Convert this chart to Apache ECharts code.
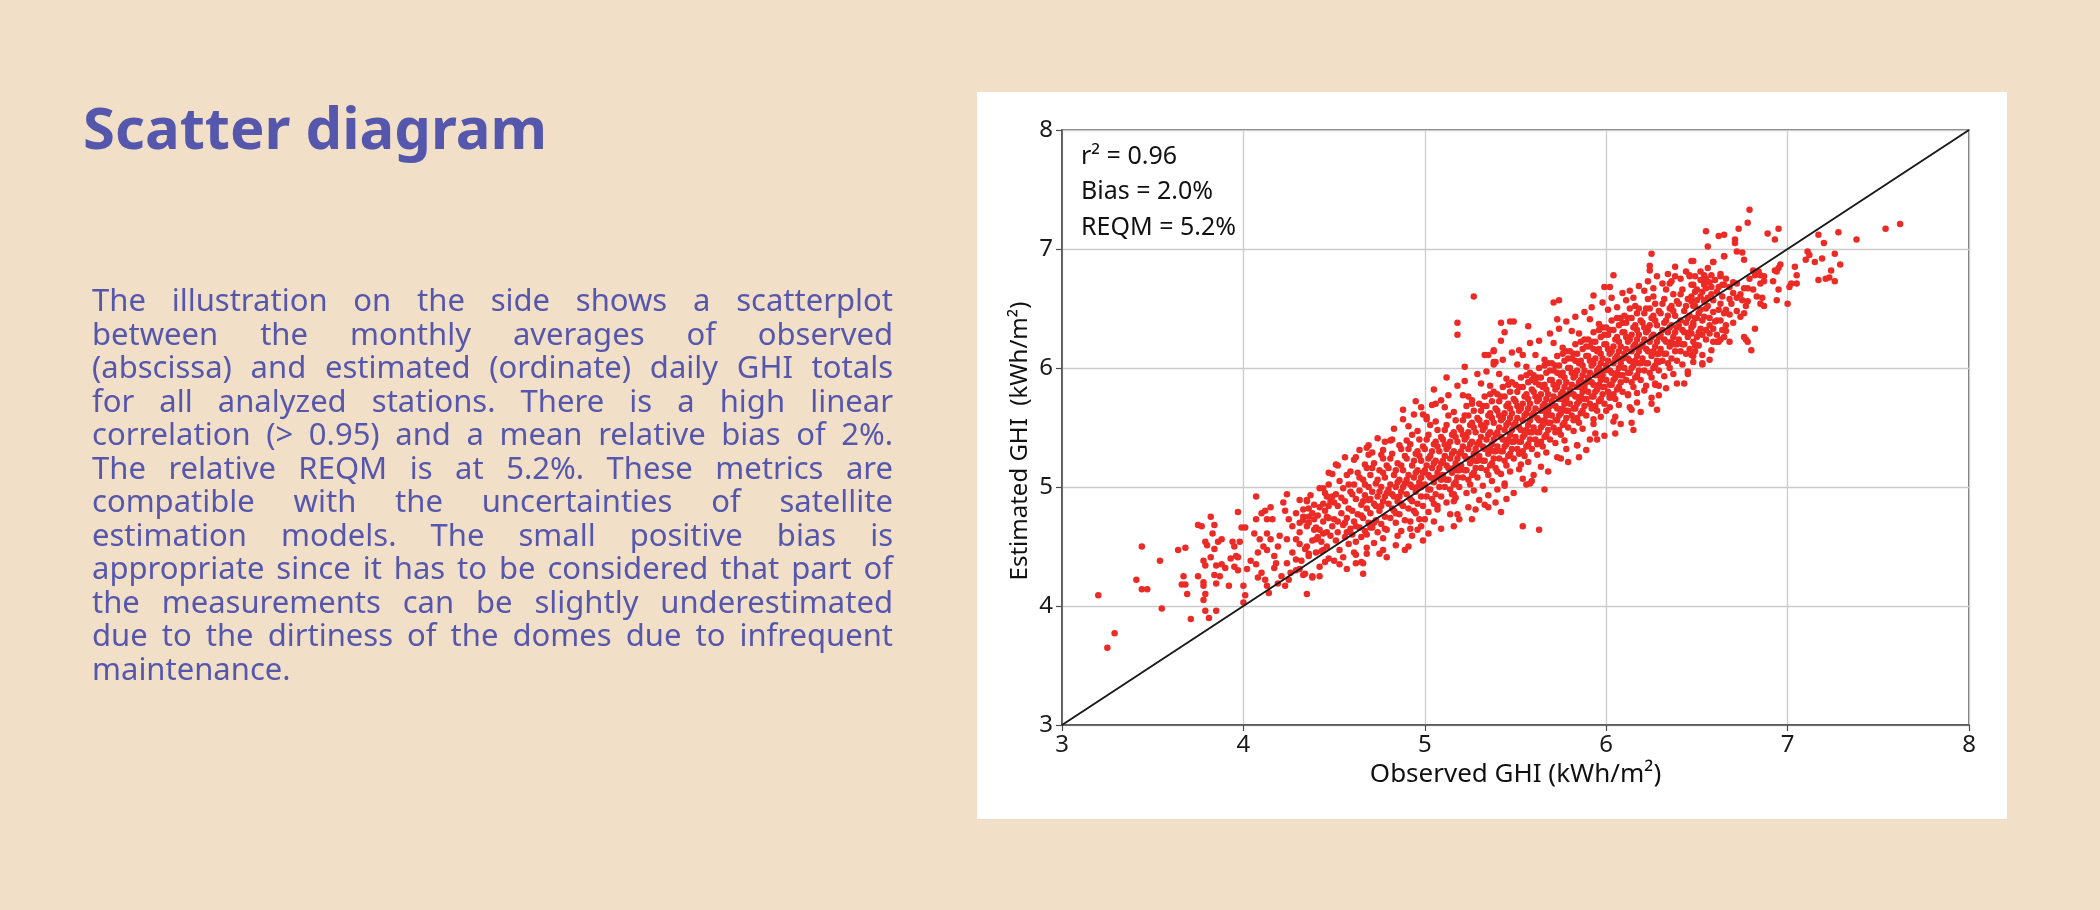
<!DOCTYPE html>
<html>
<head>
<meta charset="utf-8">
<script src="https://cdn.jsdelivr.net/npm/echarts@6/dist/echarts.min.js"></script>
<style>
html,body{margin:0;padding:0;width:2100px;height:910px;background:#f2dfc7;overflow:hidden;}
#chart{position:absolute;left:0;top:0;width:2100px;height:910px;}
#para{position:absolute;left:92px;top:283px;width:801px;font-family:'Noto Sans','Open Sans',sans-serif;font-size:31px;line-height:33.5px;color:#5557ad;z-index:5;}
#para div{text-align:justify;text-align-last:justify;white-space:nowrap;}
#para div.last{text-align:left;text-align-last:left;}
</style>
</head>
<body>
<div id="chart"></div>
<div id="para"></div>
<script>
// ---------- text ----------
const titleText = 'Scatter diagram';
const paragraphLines = [
  'The illustration on the side shows a scatterplot',
  'between the monthly averages of observed',
  '(abscissa) and estimated (ordinate) daily GHI totals',
  'for all analyzed stations. There is a high linear',
  'correlation (> 0.95) and a mean relative bias of 2%.',
  'The relative REQM is at 5.2%. These metrics are',
  'compatible with the uncertainties of satellite',
  'estimation models. The small positive bias is',
  'appropriate since it has to be considered that part of',
  'the measurements can be slightly underestimated',
  'due to the dirtiness of the domes due to infrequent',
  'maintenance.'
];
const statsLines = ['r\u00b2 = 0.96', 'Bias = 2.0%', 'REQM = 5.2%'];
const xAxisName = 'Observed GHI (kWh/m\u00b2)';
const yAxisName = 'Estimated GHI  (kWh/m\u00b2)';
const axisMin = 3, axisMax = 8, axisStep = 1;

// ---------- data: [observed, estimated] ----------
const lowerLeftPoints = [
[3.20,4.09],[3.25,3.65],[3.29,3.77],[3.44,4.50],[3.54,4.38],[3.41,4.22],[3.44,4.14],[3.47,4.14],[3.55,3.98],[3.64,4.47],
[3.68,4.49],[3.67,4.25],[3.66,4.18],[3.68,4.18],[3.69,4.10],[3.71,3.89],[3.75,4.25],[3.75,4.68],[3.77,4.67],[3.82,4.75],
[3.84,4.68],[3.83,4.61],[3.79,4.54],[3.80,4.51],[3.78,4.38],[3.79,4.34],[3.82,4.41],[3.78,4.20],[3.78,4.17],[3.79,4.10],
[3.78,4.05],[3.79,3.96],[3.81,3.90],[3.85,3.96],[3.84,4.48],[3.86,4.54],[3.88,4.56],[3.85,4.34],[3.88,4.35],[3.90,4.32],
[3.84,4.26],[3.87,4.25],[3.85,4.19],[3.92,4.17],[3.94,4.54],[3.95,4.50],[3.97,4.79],[3.93,4.40],[3.96,4.42],[3.99,4.66],
[4.01,4.66],[3.98,4.54],[3.97,4.41],[3.97,4.30],[3.95,4.33],[4.00,4.17],[4.01,4.09],[4.00,4.03],[4.02,4.31],[4.04,4.38],
[4.07,4.92],[4.07,4.73],[4.10,4.78],[4.12,4.80],[4.15,4.83],[4.13,4.73],[4.16,4.73],[4.22,4.87],[4.24,4.94],[4.23,4.80],
[4.31,4.89],[4.35,4.89],[4.36,4.82],[4.44,4.99],[4.46,4.92],[4.06,4.61],[4.09,4.56],[4.11,4.50],[4.08,4.45],[4.13,4.61],
[4.15,4.56],[4.13,4.47],[4.17,4.42],[4.07,4.35],[4.10,4.28],[4.12,4.22],[4.13,4.17],[4.14,4.11],[4.08,4.24],[4.17,4.32],
[4.19,4.19],[4.23,4.17],[4.25,4.22],[4.24,4.36],[4.27,4.45],[4.29,4.56],[4.27,4.67],[4.31,4.70],[4.35,4.67],[4.36,4.75],
[4.33,4.75],[4.39,4.73],[4.42,4.64],[4.44,4.61],[4.40,4.56],[4.35,4.50],[4.36,4.42],[4.40,4.45],[4.44,4.47],[4.42,4.33],
[4.38,4.25],[4.42,4.25],[4.35,4.10],[4.34,4.27],[4.31,4.31],[4.29,4.39],[4.26,4.28],[4.21,4.25],[4.18,4.36],[4.19,4.50],
[4.20,4.59],[4.24,4.56],[4.25,4.73],[4.29,4.78],[4.46,4.75],[4.47,4.84],[4.47,5.12]
];
const midOutliers = [
[5.33,6.11],[5.38,6.14],[5.39,6.05],[5.22,6.01],[5.06,5.70],[4.99,5.61],[5.01,5.57],[4.51,5.19],[4.62,5.25],[4.68,5.33],
[4.49,5.11],[4.78,5.38],[4.82,5.40],[4.90,5.39],[4.77,5.31],[4.69,5.27],[5.00,4.73],[5.02,4.61],[5.16,4.67],[5.26,4.73],
[5.35,4.83],[5.42,4.79],[5.40,4.98],[5.44,5.03],[5.54,4.67],[5.56,5.02],[5.52,5.15],[4.91,4.50],[4.92,4.65],[4.96,4.64],
[4.77,4.47],[4.68,4.44],[4.66,4.36],[4.62,4.36],[4.61,4.45],[4.50,4.38],[4.45,4.37],[4.38,4.24],[4.33,4.26],[4.29,4.30],
[4.78,4.65],[4.70,4.66],[5.30,4.89],[5.16,4.94],[5.07,4.84],[5.18,4.77],[5.27,6.60],[5.18,6.38],[5.18,6.28],[5.47,6.39],
[5.42,6.23],[5.35,6.11],[5.24,5.76],[5.54,6.11],[5.63,4.64],[5.33,4.85],[5.66,4.98],[5.16,4.88],[4.98,4.67],
[5.05,5.82],[5.12,5.92],[4.95,5.72],[4.88,5.65],[5.45,4.90],[5.60,5.10],[5.85,5.25],[6.05,5.45],[6.25,5.70],[6.45,5.95]
];
const upperOutliers = [
[6.25,6.96],[6.24,6.86],[6.24,6.82],[6.04,6.78],[5.99,6.68],[6.02,6.68],[5.71,6.55],[5.74,6.57],[5.93,6.61],[5.73,6.41],
[5.42,6.38],[5.49,6.39],[5.44,6.30],[5.57,6.35],[5.38,6.15],[5.38,6.05],[6.38,6.85],[6.47,6.90],[6.59,6.89],[6.65,6.94],
[6.05,5.59],[6.15,5.48],[6.43,5.87],[6.53,6.03],[6.29,5.85],[6.21,5.81],[6.27,5.86],[5.75,5.24],[5.58,5.03],[5.40,5.13],
[5.95,5.40],[5.93,5.53],[5.84,5.35],[6.13,5.67],[6.17,5.71],[6.12,5.78],[6.02,5.75],[6.00,5.64],[6.61,6.22],[6.63,6.24],
[6.58,6.15],[6.50,6.19],[6.48,6.10],[6.35,6.71],[6.46,6.78],[6.54,6.72],[6.63,6.79],[5.78,5.32],[5.91,5.40],[6.28,5.65],
[6.14,5.54],[6.29,6.05]
];
const topRightPoints = [
[6.85,6.54],[6.87,6.52],[6.83,6.60],[6.86,6.59],[6.81,6.66],[6.78,6.67],[6.85,6.71],[6.87,6.73],[6.87,6.77],[6.85,6.78],
[6.82,6.78],[6.79,6.75],[6.84,6.81],[6.81,6.82],[6.76,6.67],[6.75,6.57],[6.77,6.52],[6.74,6.43],[6.76,6.46],[6.70,6.38],
[6.68,6.45],[6.66,6.49],[6.69,6.54],[6.72,6.59],[6.70,6.63],[6.68,6.68],[6.72,6.71],[6.66,6.75],[6.65,6.70],[6.63,6.77],
[6.60,6.74],[6.58,6.78],[6.55,6.75],[6.54,6.78],[6.52,6.74],[6.49,6.77],[6.48,6.70],[6.50,6.66],[6.53,6.64],[6.55,6.67],
[6.58,6.68],[6.61,6.64],[6.64,6.60],[6.59,6.57],[6.56,6.59],[6.54,6.57],[6.50,6.57],[6.47,6.60],[6.49,6.52],[6.52,6.49],
[6.55,6.50],[6.59,6.47],[6.62,6.49],[6.65,6.46],[6.63,6.40],[6.60,6.39],[6.57,6.42],[6.54,6.43],[6.50,6.42],[6.48,6.36],
[6.52,6.33],[6.55,6.32],[6.59,6.33],[6.64,6.32],[6.66,6.31],[6.65,6.26],[6.61,6.28],[6.57,6.29],[6.53,6.28],[6.50,6.26],
[6.47,6.29],[6.82,6.33],[6.80,6.15],[6.77,6.24],[6.78,6.22],[6.76,6.26],[6.53,6.04],[6.68,6.22],[6.62,6.22],[6.49,6.19],
[6.51,6.19],[6.47,6.11],[6.48,6.90],[6.59,6.89],[6.65,6.94],[6.75,6.97],[6.76,6.91],[6.72,6.98],
[6.79,7.33],[6.78,7.22],[6.55,7.15],[6.62,7.11],[6.65,7.12],[6.73,7.17],[6.71,7.08],[6.71,7.05],[6.56,7.02],[6.89,7.13],
[6.95,7.17],[6.93,7.08],[7.17,7.12],[7.28,7.14],[7.20,7.05],[7.38,7.08],[7.54,7.17],[7.62,7.21],[7.11,6.98],[7.12,6.95],
[7.10,6.91],[7.15,6.89],[7.19,6.92],[7.26,6.96],[7.29,6.87],[7.24,6.82],[7.17,6.74],[7.21,6.75],[7.23,6.76],[7.26,6.73],
[7.04,6.85],[7.05,6.78],[7.02,6.71],[7.05,6.71],[7.01,6.68],[7.00,6.54],[6.94,6.57],[6.95,6.66],[6.92,6.73],[6.93,6.82],
[6.95,6.84],[6.96,6.87],[6.94,6.81]
];
const bandPoints = [
[4.31,4.62],[4.33,4.81],[4.34,4.48],[4.36,4.70],[4.37,4.93],[4.38,4.55],[4.32,4.38],[4.35,4.88],[4.39,4.64],[4.36,4.44],[4.33,4.72],[4.38,4.78],[4.31,4.52],[4.39,4.85],
[4.41,4.58],[4.42,4.83],[4.43,4.46],[4.44,4.71],[4.45,4.95],[4.46,4.62],[4.47,4.40],[4.48,4.88],[4.49,4.67],[4.41,4.76],[4.42,4.99],[4.43,4.54],[4.45,4.80],[4.46,4.50],[4.47,4.74],[4.48,4.59],[4.49,4.92],[4.44,4.86],[4.40,4.66],[4.47,5.02],
[4.50,4.73],[4.51,4.55],[4.51,4.94],[4.52,4.84],[4.52,4.62],[4.53,5.05],[4.53,4.47],[4.54,4.78],[4.55,4.68],[4.55,4.99],[4.56,4.58],[4.56,4.88],[4.57,4.74],[4.57,5.10],[4.58,4.52],[4.58,4.82],[4.59,4.65],[4.59,4.96],[4.50,4.87],[4.54,4.91],[4.56,4.70],[4.58,5.02],[4.52,4.71],[4.57,4.62],
[4.60,4.80],[4.60,4.60],[4.61,5.02],[4.61,4.71],[4.62,4.90],[4.62,4.54],[4.63,5.12],[4.63,4.77],[4.64,4.66],[4.64,4.97],[4.65,4.85],[4.65,4.58],[4.66,5.06],[4.66,4.74],[4.67,4.93],[4.67,4.63],[4.68,5.16],[4.68,4.82],[4.69,4.70],[4.69,5.00],[4.60,4.94],[4.62,4.67],[4.64,5.08],[4.65,4.76],[4.66,4.88],[4.67,5.02],[4.68,4.60],[4.69,4.89],
[4.70,4.78],[4.70,5.10],[4.71,4.66],[4.71,4.96],[4.72,4.86],[4.72,5.20],[4.73,4.72],[4.73,5.03],[4.74,4.62],[4.74,4.92],[4.75,5.14],[4.75,4.80],[4.76,4.69],[4.76,5.00],[4.77,4.88],[4.77,5.24],[4.78,4.75],[4.78,5.08],[4.79,4.64],[4.79,4.95],[4.70,4.90],[4.71,5.16],[4.72,4.70],[4.73,4.84],[4.74,5.06],[4.75,4.96],[4.76,4.84],[4.77,5.12],[4.78,4.92],[4.79,5.18],
[4.80,4.86],[4.80,5.16],[4.81,4.74],[4.81,5.02],[4.82,4.94],[4.82,5.28],[4.83,4.80],[4.83,5.10],[4.84,4.70],[4.84,5.00],[4.85,5.20],[4.85,4.88],[4.86,4.77],[4.86,5.06],[4.87,4.96],[4.87,5.32],[4.88,4.84],[4.88,5.14],[4.89,4.72],[4.89,5.03],[4.80,4.98],[4.81,5.24],[4.82,4.82],[4.83,4.92],[4.84,5.14],[4.85,5.04],[4.86,4.92],[4.87,5.18],[4.88,5.00],[4.89,5.26],[4.84,4.78],[4.87,4.86],
[4.90,4.94],[4.90,5.24],[4.91,4.82],[4.91,5.10],[4.92,5.02],[4.92,5.36],[4.93,4.88],[4.93,5.18],[4.94,4.80],[4.94,5.08],[4.95,5.28],[4.95,4.96],[4.96,4.86],[4.96,5.14],[4.97,5.04],[4.97,5.40],[4.98,4.92],[4.98,5.22],[4.99,4.84],[4.99,5.12],[4.90,5.06],[4.91,5.32],[4.92,4.90],[4.93,5.00],[4.94,5.22],[4.95,5.12],[4.96,5.00],[4.97,5.26],[4.98,5.08],[4.99,5.34],[4.93,5.44],[4.96,5.30],[4.95,4.78],[4.98,5.00],
[5.00,5.02],[5.00,5.32],[5.01,4.92],[5.01,5.18],[5.02,5.10],[5.02,5.44],[5.03,4.98],[5.03,5.26],[5.04,4.90],[5.04,5.16],[5.05,5.36],[5.05,5.04],[5.06,4.94],[5.06,5.22],[5.07,5.12],[5.07,5.48],[5.08,5.00],[5.08,5.30],[5.09,4.92],[5.09,5.20],[5.00,5.14],[5.01,5.40],[5.02,4.98],[5.03,5.08],[5.04,5.30],[5.05,5.20],[5.06,5.08],[5.07,5.34],[5.08,5.16],[5.09,5.42],[5.03,5.52],[5.06,5.38],[5.05,4.86],[5.08,5.08],[5.02,5.24],[5.09,5.06],
[5.10,5.10],[5.10,5.40],[5.11,5.00],[5.11,5.26],[5.12,5.18],[5.12,5.52],[5.13,5.06],[5.13,5.34],[5.14,4.98],[5.14,5.24],[5.15,5.44],[5.15,5.12],[5.16,5.02],[5.16,5.30],[5.17,5.20],[5.17,5.56],[5.18,5.08],[5.18,5.38],[5.19,5.00],[5.19,5.28],[5.10,5.22],[5.11,5.48],[5.12,5.06],[5.13,5.16],[5.14,5.38],[5.15,5.28],[5.16,5.16],[5.17,5.42],[5.18,5.24],[5.19,5.50],[5.13,5.60],[5.16,5.46],[5.15,4.94],[5.18,5.14],[5.12,5.32],[5.19,5.14],[5.11,5.36],[5.17,5.04],
[5.20,5.18],[5.20,5.48],[5.21,5.08],[5.21,5.34],[5.22,5.26],[5.22,5.60],[5.23,5.14],[5.23,5.42],[5.24,5.06],[5.24,5.32],[5.25,5.52],[5.25,5.20],[5.26,5.10],[5.26,5.38],[5.27,5.28],[5.27,5.64],[5.28,5.16],[5.28,5.46],[5.29,5.08],[5.29,5.36],[5.20,5.30],[5.21,5.56],[5.22,5.14],[5.23,5.24],[5.24,5.46],[5.25,5.36],[5.26,5.24],[5.27,5.50],[5.28,5.32],[5.29,5.58],[5.23,5.68],[5.26,5.54],[5.25,5.02],[5.28,5.22],[5.22,5.40],[5.29,5.22],[5.21,5.44],[5.27,5.12],[5.24,5.60],[5.26,5.70],
[5.30,5.26],[5.30,5.56],[5.31,5.16],[5.31,5.42],[5.32,5.34],[5.32,5.68],[5.33,5.22],[5.33,5.50],[5.34,5.14],[5.34,5.40],[5.35,5.60],[5.35,5.28],[5.36,5.18],[5.36,5.46],[5.37,5.36],[5.37,5.72],[5.38,5.24],[5.38,5.54],[5.39,5.16],[5.39,5.44],[5.30,5.38],[5.31,5.64],[5.32,5.22],[5.33,5.32],[5.34,5.54],[5.35,5.44],[5.36,5.32],[5.37,5.58],[5.38,5.40],[5.39,5.66],[5.33,5.76],[5.36,5.62],[5.35,5.10],[5.38,5.30],[5.32,5.48],[5.39,5.30],[5.31,5.52],[5.37,5.20],[5.34,5.68],[5.36,5.78],[5.30,5.70],[5.38,5.80],
[5.40,5.34],[5.40,5.64],[5.41,5.24],[5.41,5.50],[5.42,5.42],[5.42,5.76],[5.43,5.30],[5.43,5.58],[5.44,5.22],[5.44,5.48],[5.45,5.68],[5.45,5.36],[5.46,5.26],[5.46,5.54],[5.47,5.44],[5.47,5.80],[5.48,5.32],[5.48,5.62],[5.49,5.24],[5.49,5.52],[5.40,5.46],[5.41,5.72],[5.42,5.30],[5.43,5.40],[5.44,5.62],[5.45,5.52],[5.46,5.40],[5.47,5.66],[5.48,5.48],[5.49,5.74],[5.43,5.84],[5.46,5.70],[5.45,5.18],[5.48,5.38],[5.42,5.56],[5.49,5.38],[5.41,5.60],[5.47,5.28],[5.44,5.76],[5.46,5.86],[5.40,5.78],[5.48,5.88],[5.44,5.34],[5.47,5.58],
[5.50,5.42],[5.50,5.72],[5.51,5.32],[5.51,5.58],[5.52,5.50],[5.52,5.84],[5.53,5.38],[5.53,5.66],[5.54,5.30],[5.54,5.56],[5.55,5.76],[5.55,5.44],[5.56,5.34],[5.56,5.62],[5.57,5.52],[5.57,5.88],[5.58,5.40],[5.58,5.70],[5.59,5.32],[5.59,5.60],[5.50,5.54],[5.51,5.80],[5.52,5.38],[5.53,5.48],[5.54,5.70],[5.55,5.60],[5.56,5.48],[5.57,5.74],[5.58,5.56],[5.59,5.82],[5.53,5.92],[5.56,5.78],[5.55,5.26],[5.58,5.46],[5.52,5.64],[5.59,5.46],[5.51,5.68],[5.57,5.36],[5.54,5.84],[5.56,5.94],[5.50,5.86],[5.58,5.96],[5.54,5.42],[5.57,5.66],[5.52,5.28],[5.59,5.90],
[5.60,5.50],[5.60,5.80],[5.61,5.40],[5.61,5.66],[5.62,5.58],[5.62,5.92],[5.63,5.46],[5.63,5.74],[5.64,5.38],[5.64,5.64],[5.65,5.84],[5.65,5.52],[5.66,5.42],[5.66,5.70],[5.67,5.60],[5.67,5.96],[5.68,5.48],[5.68,5.78],[5.69,5.40],[5.69,5.68],[5.60,5.62],[5.61,5.88],[5.62,5.46],[5.63,5.56],[5.64,5.78],[5.65,5.68],[5.66,5.56],[5.67,5.82],[5.68,5.64],[5.69,5.90],[5.63,6.00],[5.66,5.86],[5.65,5.34],[5.68,5.54],[5.62,5.72],[5.69,5.54],[5.61,5.76],[5.67,5.44],[5.64,5.92],[5.66,6.02],[5.60,5.94],[5.68,6.04],[5.64,5.50],[5.67,5.74],[5.62,5.36],[5.69,5.98],[5.63,5.86],[5.66,5.64],
[5.70,5.60],[5.70,5.90],[5.71,5.50],[5.71,5.76],[5.72,5.68],[5.72,6.02],[5.73,5.56],[5.73,5.84],[5.74,5.48],[5.74,5.74],[5.75,5.94],[5.75,5.62],[5.76,5.52],[5.76,5.80],[5.77,5.70],[5.77,6.06],[5.78,5.58],[5.78,5.88],[5.79,5.50],[5.79,5.78],[5.70,5.72],[5.71,5.98],[5.72,5.56],[5.73,5.66],[5.74,5.88],[5.75,5.78],[5.76,5.66],[5.77,5.92],[5.78,5.74],[5.79,6.00],[5.73,6.10],[5.76,5.96],[5.75,5.44],[5.78,5.64],[5.72,5.82],[5.79,5.64],[5.71,5.86],[5.77,5.54],[5.74,6.02],[5.76,6.12],[5.70,6.04],[5.78,6.14],[5.74,5.60],[5.77,5.84],[5.72,5.46],[5.79,6.08],[5.73,5.96],[5.76,5.74],
[5.80,5.70],[5.80,6.00],[5.81,5.60],[5.81,5.86],[5.82,5.78],[5.82,6.12],[5.83,5.66],[5.83,5.94],[5.84,5.58],[5.84,5.84],[5.85,6.04],[5.85,5.72],[5.86,5.62],[5.86,5.90],[5.87,5.80],[5.87,6.16],[5.88,5.68],[5.88,5.98],[5.89,5.60],[5.89,5.88],[5.80,5.82],[5.81,6.08],[5.82,5.66],[5.83,5.76],[5.84,5.98],[5.85,5.88],[5.86,5.76],[5.87,6.02],[5.88,5.84],[5.89,6.10],[5.83,6.20],[5.86,6.06],[5.85,5.54],[5.88,5.74],[5.82,5.92],[5.89,5.74],[5.81,5.96],[5.87,5.64],[5.84,6.12],[5.86,6.22],[5.80,6.14],[5.88,6.24],[5.84,5.70],[5.87,5.94],[5.82,5.56],[5.89,6.18],[5.83,6.06],[5.86,5.84],
[5.90,5.80],[5.90,6.10],[5.91,5.70],[5.91,5.96],[5.92,5.88],[5.92,6.22],[5.93,5.76],[5.93,6.04],[5.94,5.68],[5.94,5.94],[5.95,6.14],[5.95,5.82],[5.96,5.72],[5.96,6.00],[5.97,5.90],[5.97,6.26],[5.98,5.78],[5.98,6.08],[5.99,5.70],[5.99,5.98],[5.90,5.92],[5.91,6.18],[5.92,5.76],[5.93,5.86],[5.94,6.08],[5.95,5.98],[5.96,5.86],[5.97,6.12],[5.98,5.94],[5.99,6.20],[5.93,6.30],[5.96,6.16],[5.95,5.64],[5.98,5.84],[5.92,6.02],[5.99,5.84],[5.91,6.06],[5.97,5.74],[5.94,6.22],[5.96,6.32],[5.90,6.24],[5.98,6.34],[5.94,5.80],[5.97,6.04],[5.92,5.66],[5.99,6.28],[5.93,6.16],[5.96,5.94],
[6.00,5.90],[6.00,6.20],[6.01,5.80],[6.01,6.06],[6.02,5.98],[6.02,6.32],[6.03,5.86],[6.03,6.14],[6.04,5.78],[6.04,6.04],[6.05,6.24],[6.05,5.92],[6.06,5.82],[6.06,6.10],[6.07,6.00],[6.07,6.36],[6.08,5.88],[6.08,6.18],[6.09,5.80],[6.09,6.08],[6.00,6.02],[6.01,6.28],[6.02,5.86],[6.03,5.96],[6.04,6.18],[6.05,6.08],[6.06,5.96],[6.07,6.22],[6.08,6.04],[6.09,6.30],[6.03,6.40],[6.06,6.26],[6.05,5.74],[6.08,5.94],[6.02,6.12],[6.09,5.94],[6.01,6.16],[6.07,5.84],[6.04,6.32],[6.06,6.42],[6.00,6.34],[6.08,6.42],[6.04,5.90],[6.07,6.14],[6.02,5.76],[6.09,6.38],
[6.10,6.00],[6.10,6.30],[6.11,5.90],[6.11,6.16],[6.12,6.08],[6.12,6.42],[6.13,5.96],[6.13,6.24],[6.14,5.88],[6.14,6.14],[6.15,6.34],[6.15,6.02],[6.16,5.92],[6.16,6.20],[6.17,6.10],[6.17,6.46],[6.18,5.98],[6.18,6.28],[6.19,5.90],[6.19,6.18],[6.10,6.12],[6.11,6.38],[6.12,5.96],[6.13,6.06],[6.14,6.28],[6.15,6.18],[6.16,6.06],[6.17,6.32],[6.18,6.14],[6.19,6.40],[6.13,6.50],[6.16,6.36],[6.15,5.84],[6.18,6.04],[6.12,6.22],[6.19,6.04],[6.11,6.26],[6.17,5.94],[6.14,6.42],[6.16,6.52],[6.10,6.44],[6.18,6.50],[6.14,6.00],[6.17,6.24],
[6.20,6.08],[6.20,6.38],[6.21,5.98],[6.21,6.24],[6.22,6.16],[6.22,6.50],[6.23,6.04],[6.23,6.32],[6.24,5.96],[6.24,6.22],[6.25,6.42],[6.25,6.10],[6.26,6.00],[6.26,6.28],[6.27,6.18],[6.27,6.54],[6.28,6.06],[6.28,6.36],[6.29,5.98],[6.29,6.26],[6.20,6.20],[6.21,6.46],[6.22,6.04],[6.23,6.14],[6.24,6.36],[6.25,6.26],[6.26,6.14],[6.27,6.40],[6.28,6.22],[6.29,6.48],[6.23,6.58],[6.26,6.44],[6.25,5.92],[6.28,6.12],[6.22,6.30],[6.29,6.12],[6.21,6.34],[6.27,6.02],[6.24,6.50],[6.26,6.60],
[6.30,6.16],[6.30,6.46],[6.31,6.06],[6.31,6.32],[6.32,6.24],[6.32,6.58],[6.33,6.12],[6.33,6.40],[6.34,6.04],[6.34,6.30],[6.35,6.50],[6.35,6.18],[6.36,6.08],[6.36,6.36],[6.37,6.26],[6.37,6.62],[6.38,6.14],[6.38,6.44],[6.39,6.06],[6.39,6.34],[6.30,6.28],[6.31,6.54],[6.32,6.12],[6.33,6.22],[6.34,6.44],[6.35,6.34],[6.36,6.22],[6.37,6.48],[6.38,6.30],[6.39,6.56],[6.33,6.66],[6.36,6.52],[6.35,6.00],[6.38,6.20],[6.32,6.38],[6.39,6.20],
[6.40,6.24],[6.40,6.54],[6.41,6.14],[6.41,6.40],[6.42,6.32],[6.42,6.66],[6.43,6.20],[6.43,6.48],[6.44,6.12],[6.44,6.38],[6.45,6.58],[6.45,6.26],[6.46,6.16],[6.46,6.44],[6.47,6.34],[6.47,6.70],[6.48,6.22],[6.48,6.52],[6.49,6.14],[6.49,6.42],[6.40,6.36],[6.41,6.62],[6.42,6.20],[6.43,6.30],[6.44,6.52],[6.45,6.42],[6.46,6.30],[6.47,6.56],[6.48,6.38],[6.49,6.64],
[6.51,6.30],[6.52,6.60],[6.53,6.40],[6.54,6.70],[6.55,6.24],[6.56,6.52],[6.57,6.36],[6.58,6.62],[6.59,6.22],[6.51,6.46],[6.54,6.56],[6.57,6.72],
[6.61,6.40],[6.63,6.54],[6.64,6.70],[6.66,6.36],[6.68,6.58],[6.70,6.72],[6.72,6.48],[6.74,6.62],[6.62,6.68],[6.78,6.56]
];
const flankPoints = [
[4.52,5.18],[4.56,5.25],[4.59,5.13],[4.53,4.35],[4.57,4.31],[4.55,4.41],
[4.61,5.23],[4.64,5.31],[4.67,5.19],[4.69,5.35],[4.62,4.43],[4.65,4.37],[4.68,4.49],[4.66,4.27],
[4.71,5.29],[4.74,5.41],[4.76,5.27],[4.72,4.53],[4.75,4.44],[4.77,4.57],[4.79,4.41],
[4.81,5.39],[4.83,5.49],[4.86,5.35],[4.88,5.57],[4.85,4.59],[4.84,4.51],[4.87,4.63],[4.89,4.47],
[4.91,5.51],[4.94,5.61],[4.96,5.47],[4.98,5.67],[4.92,4.71],[4.93,4.59],[4.97,4.73],[4.99,4.55],
[5.01,5.59],[5.04,5.69],[5.06,5.55],[5.09,5.73],[5.02,4.79],[5.05,4.71],[5.07,4.81],[5.09,4.65],
[5.11,5.67],[5.13,5.77],[5.16,5.63],[5.18,5.85],[5.12,4.87],[5.14,4.77],[5.17,4.91],[5.19,4.73],
[5.21,5.77],[5.22,5.89],[5.26,5.73],[5.29,5.95],[5.23,4.95],[5.24,4.83],[5.27,4.97],[5.28,4.81],
[5.31,5.87],[5.34,5.97],[5.36,5.85],[5.38,6.03],[5.32,5.01],[5.35,4.93],[5.37,5.05],[5.39,4.87],
[5.41,5.95],[5.43,6.07],[5.45,5.91],[5.48,6.13],[5.42,5.11],[5.44,5.01],[5.47,5.13],[5.49,4.95],
[5.51,6.03],[5.52,6.15],[5.56,6.01],[5.58,6.21],[5.53,5.19],[5.54,5.07],[5.57,5.21],[5.59,5.05],
[5.61,6.11],[5.63,6.23],[5.66,6.07],[5.69,6.29],[5.62,5.27],[5.64,5.17],[5.67,5.29],[5.68,5.13],
[5.71,6.21],[5.74,6.33],[5.76,6.17],[5.78,6.39],[5.72,5.37],[5.73,5.25],[5.77,5.39],[5.79,5.21],
[5.81,6.31],[5.83,6.43],[5.85,6.29],[5.88,6.47],[5.82,5.47],[5.84,5.35],[5.87,5.49],[5.89,5.31],
[5.91,6.41],[5.92,6.51],[5.96,6.37],[5.98,6.55],[5.93,5.57],[5.94,5.45],[5.97,5.59],[5.99,5.43],
[6.01,6.49],[6.03,6.59],[6.06,6.51],[6.09,6.63],[6.02,5.67],[6.04,5.55],[6.07,5.69],[6.08,5.53],
[6.11,6.57],[6.13,6.65],[6.15,6.59],[6.18,6.69],[6.12,5.77],[6.14,5.65],[6.17,5.79],[6.19,5.63],
[6.21,6.65],[6.23,6.73],[6.26,6.67],[6.28,6.77],[6.22,5.85],[6.25,5.75],[6.27,5.87],[6.29,5.77],
[6.31,6.71],[6.34,6.79],[6.36,6.73],[6.38,6.77],[6.32,5.93],[6.33,5.83],[6.37,5.95],[6.39,5.87],
[6.41,6.75],[6.44,6.81],[6.46,6.77],[6.42,6.03],[6.45,5.97],[6.48,6.05],
[6.52,6.81],[6.56,6.84],[6.53,6.11],[6.57,6.07]
];
const identityLine = [[3, 3], [8, 8]];

// ---------- paragraph (HTML, justified) ----------
const para = document.getElementById('para');
paragraphLines.forEach(function (line, i) {
  const d = document.createElement('div');
  d.textContent = line;
  if (i === paragraphLines.length - 1) d.className = 'last';
  para.appendChild(d);
});

// ---------- chart ----------
const allPoints = [].concat(lowerLeftPoints, midOutliers, upperOutliers, topRightPoints, bandPoints, flankPoints);
const FONT = "'Noto Sans','Open Sans',sans-serif";
const axisColor = '#4d4d4d';

const chart = echarts.init(document.getElementById('chart'), null, { renderer: 'canvas' });
chart.setOption({
  backgroundColor: '#f2dfc7',
  animation: false,
  title: {
    text: titleText,
    left: 83,
    top: 103,
    padding: 0,
    textStyle: { fontFamily: FONT, fontSize: 58, fontWeight: 'bold', color: '#5557ad' }
  },
  graphic: [
    { type: 'rect', left: 977, top: 92, z: -10, silent: true,
      shape: { width: 1030, height: 727 }, style: { fill: '#ffffff' } },
    { type: 'text', left: 1081, top: 139, z: 20, silent: true,
      style: { text: statsLines.join('\n'), fontFamily: FONT, fontSize: 25, lineHeight: 35.5, fill: '#111111' } },
    { type: 'text', x: 1020, y: 441, rotation: Math.PI / 2, z: 20, silent: true,
      style: { text: yAxisName, fontFamily: FONT, fontSize: 24, fill: '#111111', align: 'center', verticalAlign: 'middle' } }
  ],
  grid: {
    left: 1062, top: 130, right: 131, bottom: 185,
    show: true, backgroundColor: '#ffffff', borderColor: axisColor, borderWidth: 1.5
  },
  xAxis: {
    type: 'value', min: axisMin, max: axisMax, interval: axisStep,
    name: xAxisName, nameLocation: 'middle', nameGap: 35,
    nameTextStyle: { fontFamily: FONT, fontSize: 26, color: '#111111' },
    axisLine: { show: true, lineStyle: { color: axisColor, width: 1.5 } },
    axisTick: { show: true, length: 6, lineStyle: { color: axisColor, width: 1.2 } },
    axisLabel: { fontFamily: FONT, fontSize: 24, color: '#1a1a1a', margin: 8, showMinLabel: true, showMaxLabel: true },
    splitLine: { show: true, lineStyle: { color: '#cccccc', width: 1.3 } }
  },
  yAxis: {
    type: 'value', min: axisMin, max: axisMax, interval: axisStep,
    axisLine: { show: true, lineStyle: { color: axisColor, width: 1.5 } },
    axisTick: { show: true, length: 6, lineStyle: { color: axisColor, width: 1.2 } },
    axisLabel: { fontFamily: FONT, fontSize: 24, color: '#1a1a1a', margin: 9, showMinLabel: true, showMaxLabel: true },
    splitLine: { show: true, lineStyle: { color: '#cccccc', width: 1.3 } }
  },
  series: [
    {
      type: 'scatter', data: allPoints, symbol: 'circle', symbolSize: 6.5,
      itemStyle: { color: '#ec2a26', opacity: 1 }, z: 2, silent: true
    },
    {
      type: 'line', data: identityLine, symbol: 'none', z: 5, silent: true,
      lineStyle: { color: '#1a1a1a', width: 2 }
    }
  ]
});
</script>
</body>
</html>
